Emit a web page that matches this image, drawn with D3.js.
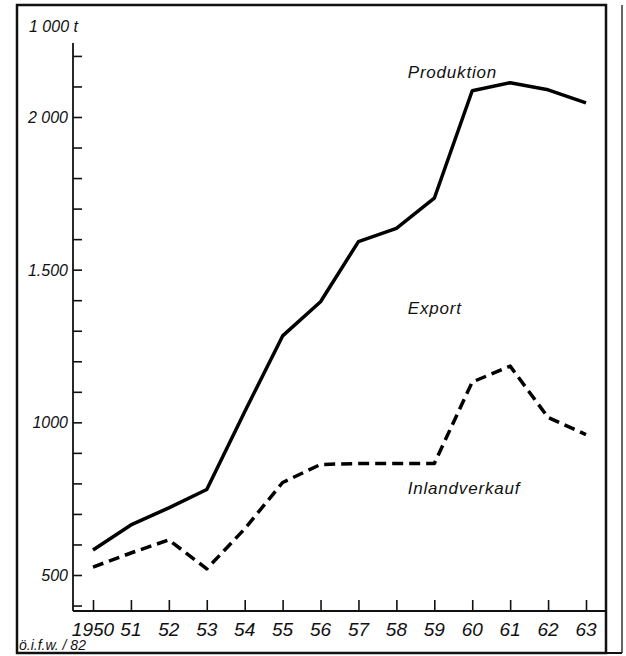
<!DOCTYPE html>
<html>
<head>
<meta charset="utf-8">
<script src="https://cdn.jsdelivr.net/npm/d3@7/dist/d3.min.js"></script>
<style>
  body { margin: 0; background: #fff; }
  text { font-family: 'Liberation Sans', Arial, sans-serif; font-style: italic; fill: #111; }
</style>
</head>
<body>
<svg id="chart" width="626" height="656"></svg>
<script>
/* global d3 */

// data (1000 t)
var years = [1950, 1951, 1952, 1953, 1954, 1955, 1956, 1957, 1958, 1959, 1960, 1961, 1962, 1963];
var produktion = [582, 664, 720, 780, 1035, 1283, 1395, 1592, 1635, 1734, 2086, 2112, 2089, 2046];
var inland = [526, 572, 615, 520, 651, 803, 862, 865, 865, 865, 1132, 1184, 1016, 960];
var xLabels = ['1950', '51', '52', '53', '54', '55', '56', '57', '58', '59', '60', '61', '62', '63'];
var yLabels = [[2000, '2 000'], [1500, '1.500'], [1000, '1000'], [500, '500']];
var seriesLabels = [['Produktion', 1958.3, 2127], ['Export', 1958.3, 1355], ['Inlandverkauf', 1958.3, 765]];

var svg = d3.select('#chart');

var x = d3.scaleLinear().domain([1950, 1963]).range([93, 586]);
var y = d3.scaleLinear().domain([500, 2000]).range([575, 117]);
var xAxisY = 611, yAxisX = 73;

// frame
svg.append('path')
  .attr('d', 'M17,653 L17,5 L606,5 L606,653 Z')
  .attr('fill', 'none').attr('stroke', '#111').attr('stroke-width', 2.5);
svg.append('line')
  .attr('x1', 622).attr('x2', 622).attr('y1', 5).attr('y2', 653)
  .attr('stroke', '#333').attr('stroke-width', 1.5);
svg.append('line')
  .attr('x1', 17).attr('x2', 622).attr('y1', 653).attr('y2', 653)
  .attr('stroke', '#111').attr('stroke-width', 2);

// y axis: ticks every 100 pointing inward
var yAxis = d3.axisRight(y)
  .tickValues(d3.range(400, 2201, 100))
  .tickSize(9)
  .tickFormat('');
var gy = svg.append('g')
  .attr('transform', 'translate(' + yAxisX + ',0)')
  .call(yAxis);
gy.select('.domain').remove();
gy.selectAll('line').attr('stroke', '#111').attr('stroke-width', 1.6);
svg.append('line')
  .attr('x1', yAxisX).attr('x2', yAxisX)
  .attr('y1', 43).attr('y2', xAxisY)
  .attr('stroke', '#111').attr('stroke-width', 1.8);

svg.selectAll('.ylab')
  .data(yLabels)
  .enter().append('text')
  .attr('class', 'ylab')
  .attr('x', 68)
  .attr('y', function(d) { return y(d[0]) + 6; })
  .attr('text-anchor', 'end')
  .style('font-size', '16px')
  .text(function(d) { return d[1]; });

svg.append('text')
  .attr('x', 29).attr('y', 32)
  .style('font-size', '16px')
  .text('1 000 t');

// x axis: ticks pointing up
var xAxis = d3.axisTop(x)
  .tickValues(years)
  .tickSize(11)
  .tickFormat('');
var gx = svg.append('g')
  .attr('transform', 'translate(0,' + xAxisY + ')')
  .call(xAxis);
gx.select('.domain').remove();
gx.selectAll('line').attr('stroke', '#111').attr('stroke-width', 1.6);
svg.append('line')
  .attr('x1', yAxisX).attr('x2', 606)
  .attr('y1', xAxisY).attr('y2', xAxisY)
  .attr('stroke', '#111').attr('stroke-width', 1.8);

svg.selectAll('.xlab')
  .data(years)
  .enter().append('text')
  .attr('class', 'xlab')
  .attr('x', function(d) { return x(d); })
  .attr('y', 636)
  .attr('text-anchor', 'middle')
  .style('font-size', '19px')
  .text(function(d, i) { return xLabels[i]; });

svg.append('text')
  .attr('x', 19).attr('y', 650)
  .style('font-size', '14px')
  .text('ö.i.f.w. / 82');

// lines
var line = d3.line()
  .x(function(d, i) { return x(years[i]); })
  .y(function(d) { return y(d); });

svg.append('path')
  .datum(produktion)
  .attr('d', line)
  .attr('fill', 'none')
  .attr('stroke', '#000')
  .attr('stroke-width', 3.5)
  .attr('stroke-linejoin', 'round');

svg.append('path')
  .datum(inland)
  .attr('d', line)
  .attr('fill', 'none')
  .attr('stroke', '#000')
  .attr('stroke-width', 3.5)
  .attr('stroke-dasharray', '11,6')
  .attr('stroke-linejoin', 'round');

svg.selectAll('.slab')
  .data(seriesLabels)
  .enter().append('text')
  .attr('class', 'slab')
  .attr('x', function(d) { return x(d[1]); })
  .attr('y', function(d) { return y(d[2]); })
  .style('font-size', '17px')
  .style('letter-spacing', '0.8px')
  .text(function(d) { return d[0]; });
</script>
</body>
</html>
